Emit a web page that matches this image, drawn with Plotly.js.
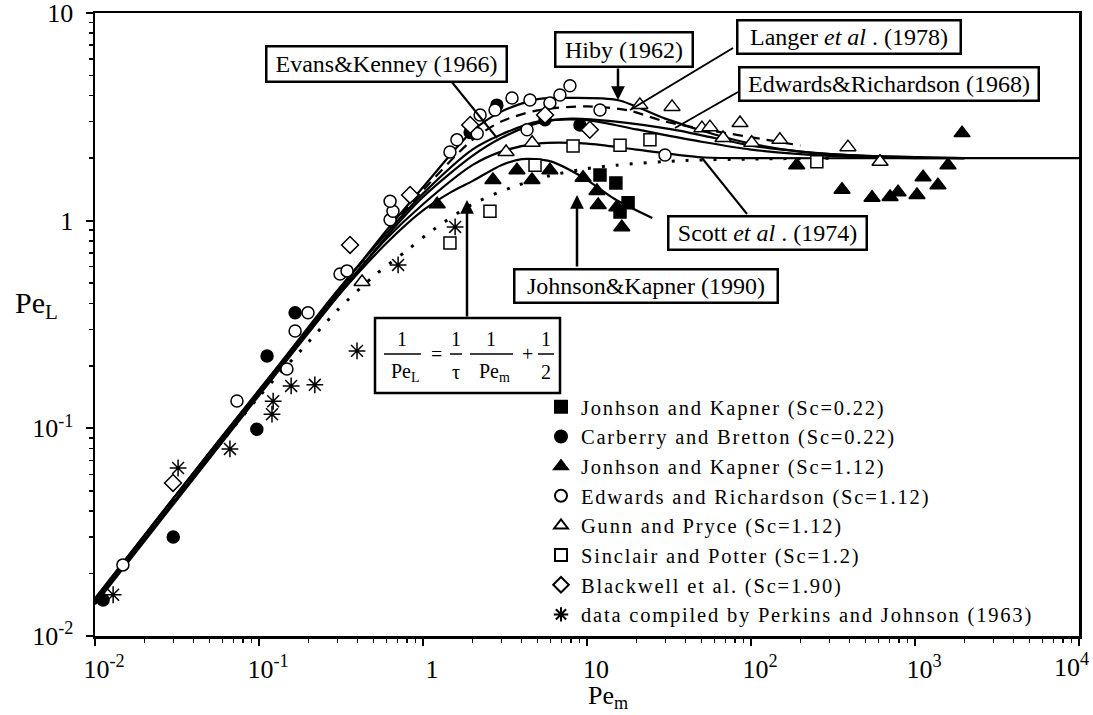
<!DOCTYPE html>
<html><head><meta charset="utf-8">
<script src="https://cdn.plot.ly/plotly-3.0.1.min.js"></script>
<style>html,body{margin:0;padding:0;background:#fff;} .legendtext{letter-spacing:1.8px;}</style>
</head><body><div id="chart" style="width:1093px;height:715px;"></div>
<script>
// ---------- tick labels ----------
const xTickVals = [0.01, 0.1, 1, 10, 100, 1000, 10000];
const xTickText = ['10<sup>-2</sup>', '10<sup>-1</sup>', '1', '10', '10<sup>2</sup>', '10<sup>3</sup>', '10<sup>4</sup>'];
const yTickVals = [0.01, 0.1, 1, 10];
const yTickText = ['10<sup>-2</sup>', '10<sup>-1</sup>', '1', '10'];

// ---------- correlation curves ----------
const hibyX = [0.01, 0.03, 0.1, 0.3, 0.6, 1, 2, 3, 5, 8, 15.5, 30, 60, 100, 200, 500, 2000];
const hibyY = [0.0145, 0.044, 0.148, 0.45, 0.9, 1.45, 2.7, 3.35, 3.85, 3.9, 3.8, 3.1, 2.6, 2.35, 2.15, 2.05, 2.0];
const langerX = [0.01, 0.03, 0.1, 0.3, 0.6, 1, 2, 3, 5, 10, 17.8, 30, 60, 125, 200];
const langerY = [0.0148, 0.045, 0.15, 0.45, 0.88, 1.4, 2.45, 3.0, 3.4, 3.55, 3.4, 3.0, 2.7, 2.45, 2.3];
const evansX = [0.01, 0.03, 0.1, 0.3, 0.6, 1, 2, 3, 5, 10, 20, 50, 100, 300, 1000, 2000];
const evansY = [0.0150, 0.046, 0.152, 0.46, 0.87, 1.35, 2.2, 2.6, 3.0, 3.05, 2.75, 2.4, 2.2, 2.05, 2.0, 2.0];
const edwardsX = [0.01, 0.03, 0.1, 0.3, 0.6, 1, 2, 3, 5, 8, 15, 33, 60, 100, 200, 500, 2000];
const edwardsY = [0.0142, 0.043, 0.144, 0.43, 0.84, 1.3, 2.05, 2.5, 2.95, 3.1, 3.0, 2.75, 2.5, 2.3, 2.15, 2.05, 2.0];
const scottX = [0.01, 0.03, 0.1, 0.3, 0.6, 1, 2, 3, 5, 10, 20, 50, 100, 1000, 10000];
const scottY = [0.0152, 0.046, 0.153, 0.44, 0.82, 1.2, 1.85, 2.15, 2.35, 2.35, 2.2, 2.02, 2.0, 2.0, 2.0];
const jkX = [0.01, 0.03, 0.1, 0.3, 0.6, 1, 1.5, 2, 3, 4, 6, 9.4, 15, 25];
const jkY = [0.0146, 0.044, 0.147, 0.43, 0.78, 1.12, 1.38, 1.55, 1.85, 1.98, 1.93, 1.62, 1.26, 1.03];
const formulaX = [0.01, 0.03, 0.1, 0.2, 0.3, 0.5, 0.8, 1.1, 2, 3.5, 6, 10, 15, 40, 100, 300];
const formulaY = [0.0148, 0.044, 0.142, 0.26, 0.37, 0.54, 0.72, 0.88, 1.2, 1.45, 1.65, 1.78, 1.85, 1.95, 1.98, 2.0];

// ---------- experimental data ----------
const seriesNames = [
  'Jonhson and Kapner (Sc=0.22)',
  'Carberry and Bretton (Sc=0.22)',
  'Jonhson and Kapner (Sc=1.12)',
  'Edwards and Richardson (Sc=1.12)',
  'Gunn and Pryce (Sc=1.12)',
  'Sinclair and Potter (Sc=1.2)',
  'Blackwell et al. (Sc=1.90)',
  'data compiled by Perkins and Johnson (1963)'
];
const jk022X = [12.0, 15.0, 17.8, 15.9];
const jk022Y = [1.66, 1.52, 1.22, 1.10];
const carberryX = [0.0112, 0.030, 0.097, 0.112, 0.166, 1.94, 2.82, 5.55, 9.06];
const carberryY = [0.0149, 0.030, 0.099, 0.223, 0.36, 2.66, 3.6, 3.06, 2.89];
const jk112X = [1.22, 2.67, 3.74, 4.62, 5.94, 9.46, 11.5, 11.7, 15.2, 16.3, 190, 359, 547, 705, 788, 1028, 1120, 1380, 1589, 1936];
const jk112Y = [1.20, 1.57, 1.75, 1.57, 1.75, 1.61, 1.39, 1.19, 1.16, 0.93, 1.85, 1.41, 1.29, 1.30, 1.37, 1.33, 1.62, 1.48, 1.85, 2.64];
const edwardsDataX = [0.0148, 0.0734, 0.148, 0.166, 0.199, 0.312, 0.344, 0.630, 0.656, 0.630, 1.46, 1.61, 2.14, 2.23, 2.75, 3.49, 4.49, 5.94, 4.31, 6.84, 7.87, 12.0, 29.9];
const edwardsDataY = [0.022, 0.1355, 0.193, 0.294, 0.36, 0.554, 0.573, 1.01, 1.11, 1.24, 2.14, 2.45, 2.63, 3.23, 3.41, 3.90, 3.81, 3.69, 2.74, 4.03, 4.46, 3.41, 2.07];
const gunnX = [0.425, 3.21, 4.63, 21.0, 33.0, 50.2, 56.2, 67.5, 85.7, 101, 150, 390, 612];
const gunnY = [0.507, 2.14, 2.37, 3.61, 3.53, 2.79, 2.82, 2.50, 2.95, 2.37, 2.45, 2.26, 1.92];
const sinclairX = [1.46, 2.56, 4.82, 8.22, 15.9, 24.2, 252];
const sinclairY = [0.781, 1.11, 1.85, 2.29, 2.31, 2.45, 1.92];
const blackwellX = [0.0299, 0.359, 0.834, 1.94, 5.55, 10.4];
const blackwellY = [0.0546, 0.764, 1.33, 2.89, 3.23, 2.74];
const perkinsX = [0.0129, 0.0321, 0.0665, 0.120, 0.122, 0.157, 0.219, 0.396, 0.705, 1.57];
const perkinsY = [0.0158, 0.0644, 0.0796, 0.117, 0.135, 0.160, 0.162, 0.236, 0.612, 0.933];

// ---------- annotation texts ----------
const labelTexts = ['Evans&amp;Kenney (1966)', 'Hiby (1962)', 'Langer <i>et al</i> . (1978)',
  'Edwards&amp;Richardson (1968)', 'Scott <i>et al</i> . (1974)', 'Johnson&amp;Kapner (1990)'];

// ---------- layout helpers (pixel -> paper) ----------
const P = {l: 95, r: 1079, t: 13, b: 636};
const fx = px => (px - P.l) / (P.r - P.l);
const fy = py => (P.b - py) / (P.b - P.t);
const SERIF = '"Liberation Serif", "Times New Roman", serif';

function curve(x, y, dash, width) {
  return {x: x, y: y, type: 'scatter', mode: 'lines', showlegend: false, hoverinfo: 'skip',
    line: {color: 'black', width: width || 2.2, dash: dash || 'solid', shape: 'spline', smoothing: 0.8}};
}
function pts(x, y, name, symbol, fill, size) {
  return {x: x, y: y, type: 'scatter', mode: 'markers', name: name,
    marker: {symbol: symbol, size: size, color: fill, line: {color: 'black', width: 1.5}}};
}

const traces = [
  curve(formulaX, formulaY, '3px,11px', 3),
  curve(jkX, jkY),
  curve(scottX, scottY),
  curve(edwardsX, edwardsY),
  curve(evansX, evansY),
  curve(langerX, langerY, '10px,7px'),
  curve(hibyX, hibyY),
  pts(jk022X, jk022Y, seriesNames[0], 'square', 'black', 12),
  pts(carberryX, carberryY, seriesNames[1], 'circle', 'black', 12),
  pts(jk112X, jk112Y, seriesNames[2], 'triangle-up', 'black', 14),
  pts(edwardsDataX, edwardsDataY, seriesNames[3], 'circle', 'white', 12),
  pts(gunnX, gunnY, seriesNames[4], 'triangle-up', 'white', 14),
  pts(sinclairX, sinclairY, seriesNames[5], 'square', 'white', 12),
  pts(blackwellX, blackwellY, seriesNames[6], 'diamond', 'white', 13),
  pts(perkinsX, perkinsY, seriesNames[7], 'asterisk-open', 'black', 14)
];

// minor tick positions
const minorX = [], minorY = [];
for (let e = -2; e < 4; e++) for (let m = 2; m < 10; m++) minorX.push(m * Math.pow(10, e));
for (let e = -2; e < 1; e++) for (let m = 2; m < 10; m++) minorY.push(m * Math.pow(10, e));

function axis(range, tv, tt, minor, standoff, shift) {
  return {type: 'log', range: range, tickmode: 'array', tickvals: tv, ticktext: tt,
    showline: true, linecolor: 'black', linewidth: 2.5, mirror: true,
    ticks: 'outside', ticklen: 7, tickwidth: 2, tickcolor: 'black',
    showgrid: false, zeroline: false, ticklabelstandoff: standoff, ticklabelshift: shift,
    ticklabeloverflow: 'allow',
    tickfont: {family: SERIF, size: 26, color: 'black'},
    minor: {tickmode: 'array', tickvals: minor, ticks: 'outside', ticklen: 4, tickwidth: 1.5, tickcolor: 'black', showgrid: false}};
}
// the last x label (10^4) would spill past the page edge: draw it as an annotation instead
const xTickShown = xTickText.map((t, i) => i === xTickText.length - 1 ? '' : t);

// label boxes: [text index, centre px x, centre px y, width, height]
const boxes = [[0, 386, 63.5, 242, 37], [1, 623.5, 49, 139, 36], [2, 848.5, 36.5, 225, 35],
  [3, 888.5, 84.5, 301, 35], [4, 767, 232.5, 200, 35], [5, 645.5, 285.5, 265, 35]];
const annotations = boxes.map(b => ({
  text: labelTexts[b[0]], xref: 'paper', yref: 'paper', x: fx(b[1]), y: fy(b[2]),
  xanchor: 'center', yanchor: 'middle', showarrow: false, width: b[3] - 4, height: b[4] - 4,
  bgcolor: 'white', bordercolor: 'black', borderwidth: 2.5, borderpad: 0,
  font: {family: SERIF, size: 24, color: 'black'}
}));
// arrows [tip x, tip y, tail x, tail y]
[[618, 100, 618, 67], [577, 195, 577, 268], [467, 200, 467, 318]].forEach(a => annotations.push({
  text: '', xref: 'paper', yref: 'paper', x: fx(a[0]), y: fy(a[1]), axref: 'pixel', ayref: 'pixel',
  ax: a[2] - a[0], ay: a[3] - a[1], showarrow: true, arrowhead: 2, arrowsize: 1.1, arrowwidth: 2.5,
  arrowcolor: 'black', standoff: 0
}));
// formula pieces [text, x, y]
[['1', 402, 339], ['Pe<sub>L</sub>', 405, 372], ['=', 436, 354], ['1', 456, 339], ['τ', 456, 372],
 ['1', 491, 339], ['Pe<sub>m</sub>', 494, 372], ['+', 527, 354], ['1', 546, 339], ['2', 546, 372]]
 .forEach(f => annotations.push({text: f[0], xref: 'paper', yref: 'paper', x: fx(f[1]), y: fy(f[2]),
   xanchor: 'center', yanchor: 'middle', showarrow: false, font: {family: SERIF, size: 20, color: 'black'}}));
// axis titles and the 10^4 tick label
annotations.push({text: 'Pe<sub>L</sub>', xref: 'paper', yref: 'paper', x: fx(36), y: fy(305),
  xanchor: 'center', yanchor: 'middle', showarrow: false, font: {family: SERIF, size: 30, color: 'black'}});
annotations.push({text: 'Pe<sub>m</sub>', xref: 'paper', yref: 'paper', x: fx(608), y: fy(697),
  xanchor: 'center', yanchor: 'middle', showarrow: false, font: {family: SERIF, size: 26, color: 'black'}});
annotations.push({text: xTickText[xTickText.length - 1], xref: 'paper', yref: 'paper', x: fx(1091), y: fy(647),
  xanchor: 'right', yanchor: 'top', showarrow: false, font: {family: SERIF, size: 26, color: 'black'}});

const shapes = [];
// pointer lines [x0,y0,x1,y1]
[[733, 48, 630, 110], [738, 92, 675, 128], [451, 81, 497, 138], [747, 214, 702, 158]].forEach(s => shapes.push({
  type: 'line', xref: 'paper', yref: 'paper', x0: fx(s[0]), y0: fy(s[1]), x1: fx(s[2]), y1: fy(s[3]),
  line: {color: 'black', width: 2}, layer: 'above'}));
shapes.push({type: 'rect', xref: 'paper', yref: 'paper', x0: fx(375), y0: fy(318), x1: fx(560), y1: fy(393),
  line: {color: 'black', width: 2.5}, fillcolor: 'white', layer: 'above'});
[[384, 421], [450, 462], [470, 513], [538, 554]].forEach(b => shapes.push({
  type: 'line', xref: 'paper', yref: 'paper', x0: fx(b[0]), y0: fy(354), x1: fx(b[1]), y1: fy(354),
  line: {color: 'black', width: 1.5}, layer: 'above'}));

const layout = {
  width: 1093, height: 715, margin: {l: P.l, r: 1093 - P.r, t: P.t, b: 715 - P.b},
  paper_bgcolor: 'white', plot_bgcolor: 'white',
  font: {family: SERIF, color: 'black'},
  xaxis: axis([-2, 4], xTickVals, xTickShown, minorX, 1, 9),
  yaxis: axis([-2, 1], yTickVals, yTickText, minorY, 7, 0),
  legend: {x: fx(541), y: fy(387), xanchor: 'left', yanchor: 'top', bgcolor: 'rgba(0,0,0,0)',
    font: {family: SERIF, size: 20.5, color: 'black'}, itemsizing: 'constant', tracegroupgap: 0, itemclick: false},
  annotations: annotations, shapes: shapes
};
Plotly.newPlot('chart', traces, layout, {staticPlot: true, displayModeBar: false});
</script></body></html>
